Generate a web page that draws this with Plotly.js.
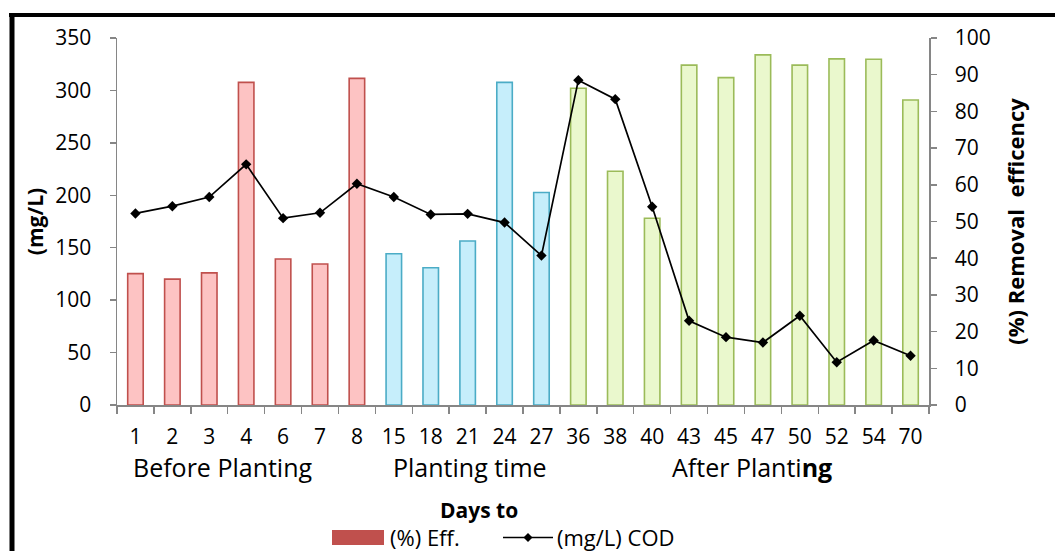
<!DOCTYPE html>
<html><head><meta charset="utf-8">
<script src="https://cdn.plot.ly/plotly-3.0.1.min.js"></script>
<style>html,body{margin:0;padding:0;background:#fff}#chart{width:1055px;height:551px}</style>
</head><body><div id="chart"></div>
<script>
const days = ["1","2","3","4","6","7","8","15","18","21","24","27","36","38","40","43","45","47","50","52","54","70"];
const phase = ["before","before","before","before","before","before","before","during","during","during","during","during","after","after","after","after","after","after","after","after","after","after"];
const effPct = [35.8,34.3,36.0,87.9,39.8,38.4,89.0,41.2,37.4,44.7,87.9,57.9,86.3,63.7,50.9,92.6,89.2,95.4,92.6,94.3,94.2,83.1];
const codMgL = [182.7,189.6,198.3,229.5,178.2,183.3,211,198.3,181.7,182.3,174,142.5,309.8,291.7,189,80.3,64.7,59.6,85.1,40.8,61.5,46.9];
const leftTicks = [0,50,100,150,200,250,300,350];
const rightTicks = [0,10,20,30,40,50,60,70,80,90,100];
const groupLabels = ["Before Planting","Planting time","After Planti<b>ng</b>"];
const legendNames = ["(%) Eff.","(mg/L) COD"];

const fillByPhase = {before:"#fdc3c3", during:"#c6eefb", after:"#eaf8cd"};
const lineByPhase = {before:"#c0504d", during:"#4bacc6", after:"#9bbb59"};

const F = "'Open Sans', sans-serif";

const traces = [
  {type:"bar", x:days, y:effPct, yaxis:"y", name:legendNames[0], showlegend:false,
   width:0.42,
   marker:{color:phase.map(p=>fillByPhase[p]), line:{color:phase.map(p=>lineByPhase[p]), width:1.6}}},
  {type:"scatter", mode:"lines+markers", x:days, y:codMgL, yaxis:"y2", name:legendNames[1], showlegend:false,
   line:{color:"#000", width:1.7}, marker:{symbol:"diamond", size:8, color:"#000"}}
];

const L=117, R=929, T=38, B=405;
const px = v => (v-L)/(R-L);
const py = v => (B-v)/(B-T);

const layout = {
  width:1055, height:551,
  margin:{l:117, r:126, t:38, b:146},
  paper_bgcolor:"#fff", plot_bgcolor:"#fff",
  font:{family:F, color:"#000"},
  showlegend:false,
  xaxis:{type:"category", range:[-0.5, days.length-0.5], showline:true, linecolor:"#868686", linewidth:1.5,
         ticks:"outside", tickson:"boundaries", ticklen:7, tickcolor:"#868686", tickwidth:1.5,
         ticklabelstandoff:12,
         tickfont:{size:21, family:F}, showgrid:false, zeroline:false, fixedrange:true},
  yaxis:{range:[0,100], side:"right", tickvals:rightTicks, ticktext:rightTicks.map(String),
         showline:true, linecolor:"#868686", linewidth:1.5, ticks:"outside", ticklen:6, tickcolor:"#868686", tickwidth:1.5,
         ticklabelstandoff:14,
         showgrid:false, zeroline:false, tickfont:{size:21, family:F},
         title:{text:"<b>(%) Removal  efficency</b>", font:{size:22, family:F}, standoff:19}},
  yaxis2:{range:[0,350], overlaying:"y", side:"left", tickvals:leftTicks, ticktext:leftTicks.map(String),
          showline:true, linecolor:"#868686", linewidth:1.5,
          ticks:"outside", ticklen:6, tickcolor:"#868686", tickwidth:1.5, showgrid:false, zeroline:false,
          ticklabelstandoff:14,
          tickfont:{size:21, family:F},
          title:{text:"<b>(mg/L)</b>", font:{size:21, family:F}, standoff:6}},
  annotations:[
    {text:groupLabels[0], xref:"paper", yref:"paper", x:px(222.5), xanchor:"center", y:py(467), yanchor:"middle", showarrow:false, font:{size:25, family:F}},
    {text:groupLabels[1], xref:"paper", yref:"paper", x:px(470), xanchor:"center", y:py(467), yanchor:"middle", showarrow:false, font:{size:25, family:F}},
    {text:groupLabels[2], xref:"paper", yref:"paper", x:px(752), xanchor:"center", y:py(467), yanchor:"middle", showarrow:false, font:{size:25, family:F}},
    {text:"<b>Days to</b>", xref:"paper", yref:"paper", x:px(479), xanchor:"center", y:py(510), yanchor:"middle", showarrow:false, font:{size:21, family:F}},
    {text:legendNames[0], xref:"paper", yref:"paper", x:px(388), xanchor:"left", y:py(537), yanchor:"middle", showarrow:false, font:{size:22, family:F}},
    {text:legendNames[1], xref:"paper", yref:"paper", x:px(555), xanchor:"left", y:py(537), yanchor:"middle", showarrow:false, font:{size:22, family:F}}
  ],
  shapes:[
    {type:"line", xref:"paper", yref:"paper", x0:px(9), x1:px(1056), y0:py(15), y1:py(15), line:{color:"#000", width:4}},
    {type:"line", xref:"paper", yref:"paper", x0:px(12), x1:px(12), y0:py(13), y1:py(552), line:{color:"#000", width:5}},
    {type:"rect", xref:"paper", yref:"paper", x0:px(332), x1:px(384), y0:py(530), y1:py(545), line:{width:0}, fillcolor:"#c0504d"},
    {type:"line", xref:"paper", yref:"paper", x0:px(503), x1:px(553), y0:py(537.5), y1:py(537.5), line:{color:"#000", width:1.6}},
    {type:"path", xref:"paper", yref:"paper",
     path:`M ${px(528)},${py(533)} L ${px(532.5)},${py(537.5)} L ${px(528)},${py(542)} L ${px(523.5)},${py(537.5)} Z`,
     fillcolor:"#000", line:{width:0}}
  ]
};

Plotly.newPlot("chart", traces, layout, {displayModeBar:false, staticPlot:true});
</script></body></html>
